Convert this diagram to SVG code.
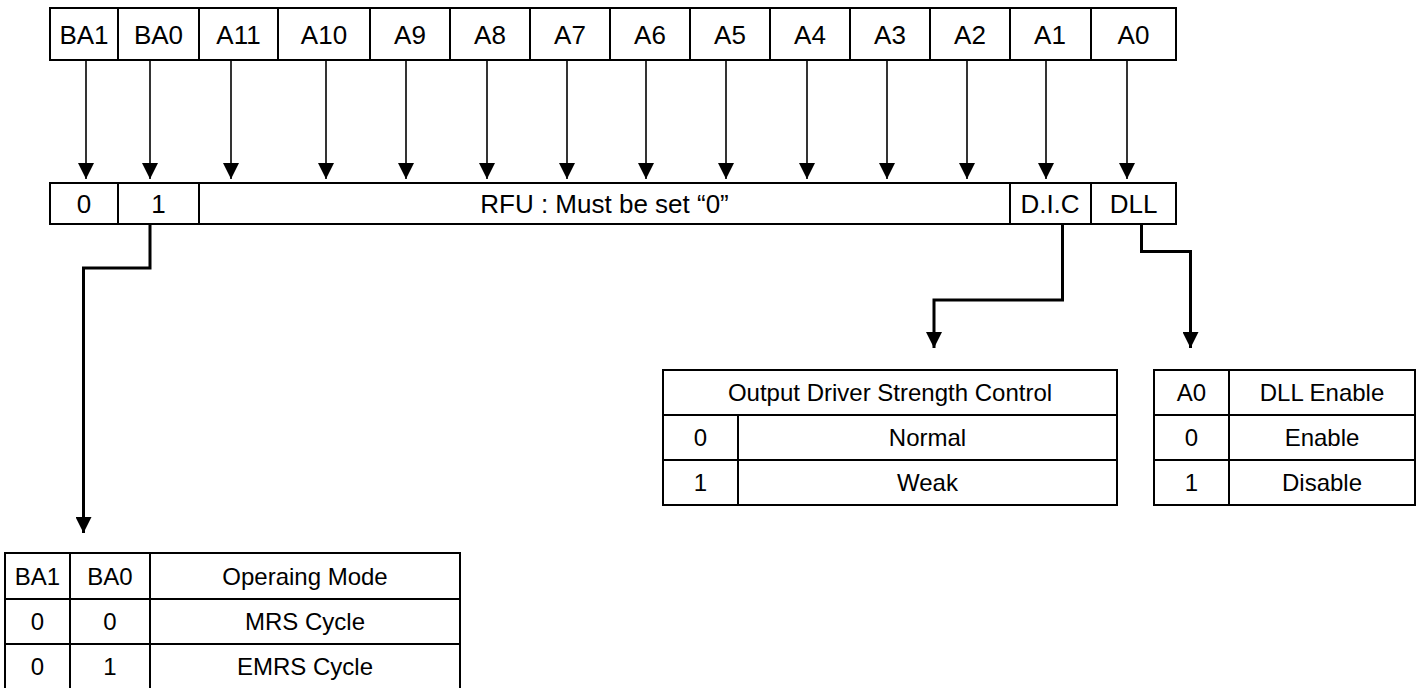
<svg xmlns="http://www.w3.org/2000/svg" width="1422" height="688" viewBox="0 0 1422 688">
<style>
  text { font-family: "Liberation Sans", Arial, sans-serif; font-size: 24px; fill: #000; text-anchor: middle; }
  .big text { font-size: 26px; }
  .cell { fill: #fff; stroke: #000; stroke-width: 2; }
  .grid { stroke: #000; stroke-width: 2; fill: none; }
  .thin { stroke: #000; stroke-width: 1.6; fill: none; }
  .thick { stroke: #000; stroke-width: 3; fill: none; stroke-linejoin: miter; }
</style>
<defs>
  <marker id="ah" markerUnits="userSpaceOnUse" markerWidth="16" markerHeight="16" refX="16" refY="8" orient="auto">
    <path d="M0,0 L16,8 L0,16 z" fill="#000"/>
  </marker>
</defs>
<rect width="1422" height="688" fill="#fff"/>

<g id="address-row" class="big">
  <rect class="cell" x="50" y="8" width="1126" height="52"/>
  <path class="grid" d="M118,8V60 M199,8V60 M278,8V60 M370,8V60 M450,8V60 M530,8V60 M610,8V60 M690,8V60 M770,8V60 M850,8V60 M930,8V60 M1010,8V60 M1091,8V60"/>
  <text x="84" y="43.5">BA1</text>
  <text x="158.5" y="43.5">BA0</text>
  <text x="238.5" y="43.5">A11</text>
  <text x="324" y="43.5">A10</text>
  <text x="410" y="43.5">A9</text>
  <text x="490" y="43.5">A8</text>
  <text x="570" y="43.5">A7</text>
  <text x="650" y="43.5">A6</text>
  <text x="730" y="43.5">A5</text>
  <text x="810" y="43.5">A4</text>
  <text x="890" y="43.5">A3</text>
  <text x="970" y="43.5">A2</text>
  <text x="1050" y="43.5">A1</text>
  <text x="1133.5" y="43.5">A0</text>
</g>

<g id="register-row" class="big">
  <rect class="cell" x="50" y="183" width="1126" height="41"/>
  <path class="grid" d="M118,183V224 M199,183V224 M1010,183V224 M1091,183V224"/>
  <text x="84" y="213">0</text>
  <text x="158.5" y="213">1</text>
  <text x="604.5" y="213">RFU : Must be set “0”</text>
  <text x="1050" y="213">D.I.C</text>
  <text x="1133.5" y="213">DLL</text>
</g>

<g id="connectors">
  <g class="thin" marker-end="url(#ah)">
    <path d="M86,60V179"/>
    <path d="M150,60V179"/>
    <path d="M231,60V179"/>
    <path d="M326,60V179"/>
    <path d="M406,60V179"/>
    <path d="M487,60V179"/>
    <path d="M567,60V179"/>
    <path d="M646,60V179"/>
    <path d="M726,60V179"/>
    <path d="M807,60V179"/>
    <path d="M887,60V179"/>
    <path d="M967,60V179"/>
    <path d="M1046,60V179"/>
    <path d="M1127,60V179"/>
  </g>
  <g class="thick" marker-end="url(#ah)">
    <path d="M150,224V268H83.5V533"/>
    <path d="M1062.5,224V300H934V348"/>
    <path d="M1141.5,224V251.5H1190.5V348"/>
  </g>
</g>

<g id="operating-mode-table">
  <rect class="cell" x="5" y="553" width="455" height="150"/>
  <path class="grid" d="M70,553V703 M150,553V703 M5,599H460 M5,644H460 M5,689H460"/>
  <text x="37.5" y="585">BA1</text>
  <text x="110" y="585">BA0</text>
  <text x="305" y="585">Operaing Mode</text>
  <text x="37.5" y="630">0</text>
  <text x="110" y="630">0</text>
  <text x="305" y="630">MRS Cycle</text>
  <text x="37.5" y="675">0</text>
  <text x="110" y="675">1</text>
  <text x="305" y="675">EMRS Cycle</text>
</g>

<g id="drive-strength-table">
  <rect class="cell" x="663" y="370" width="454" height="135"/>
  <path class="grid" d="M663,415H1117 M663,460H1117 M738,415V505"/>
  <text x="890" y="401">Output Driver Strength Control</text>
  <text x="700.5" y="446">0</text>
  <text x="927.5" y="446">Normal</text>
  <text x="700.5" y="491">1</text>
  <text x="927.5" y="491">Weak</text>
</g>

<g id="dll-table">
  <rect class="cell" x="1154" y="370" width="261" height="135"/>
  <path class="grid" d="M1154,415H1415 M1154,460H1415 M1229,370V505"/>
  <text x="1191.5" y="401">A0</text>
  <text x="1322" y="401">DLL Enable</text>
  <text x="1191.5" y="446">0</text>
  <text x="1322" y="446">Enable</text>
  <text x="1191.5" y="491">1</text>
  <text x="1322" y="491">Disable</text>
</g>
</svg>
